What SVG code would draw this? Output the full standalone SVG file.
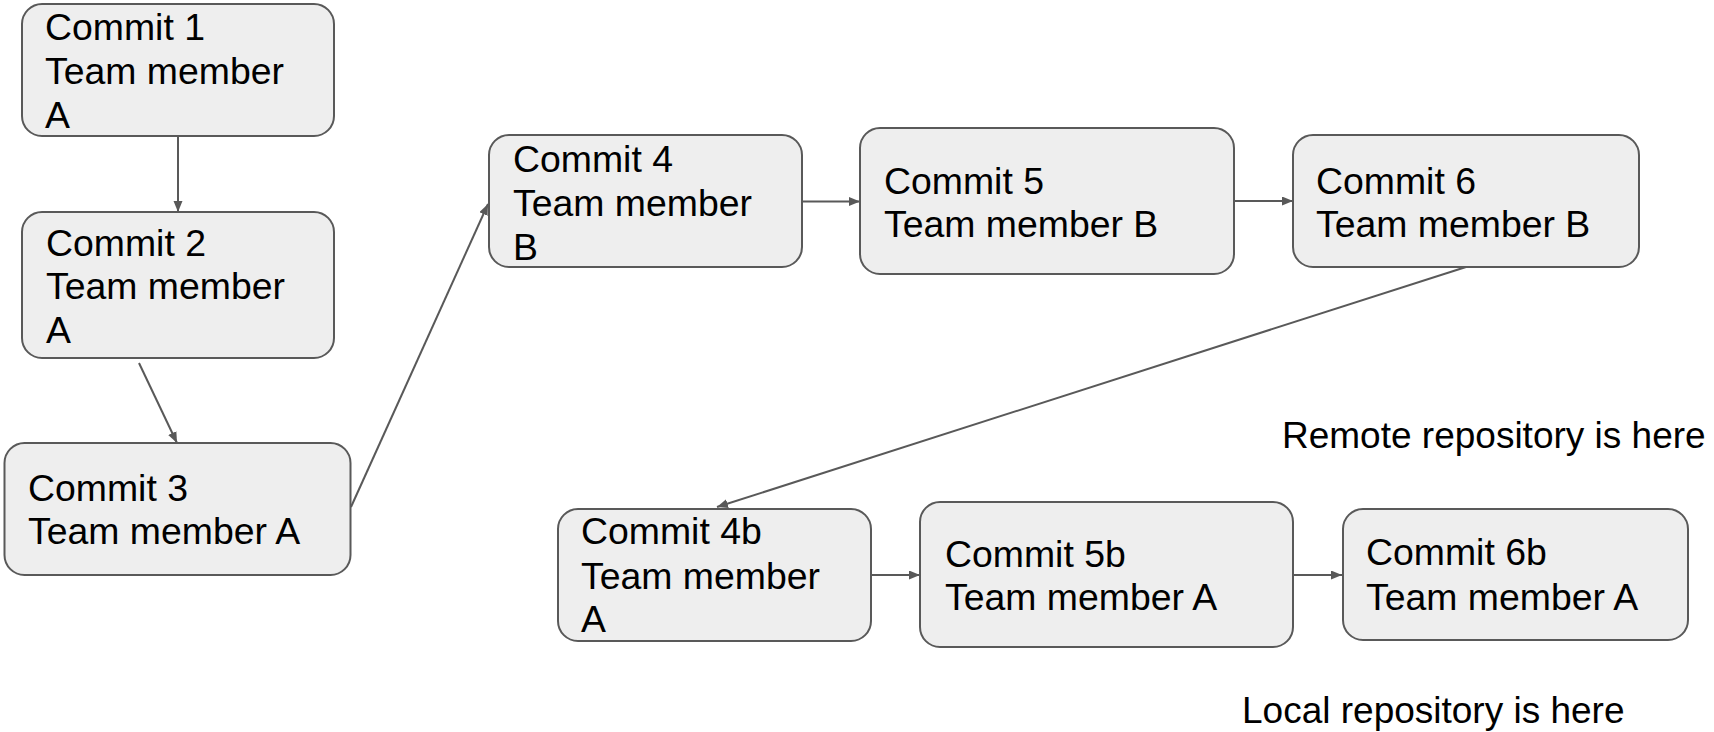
<svg xmlns="http://www.w3.org/2000/svg" width="1714" height="732" viewBox="0 0 1714 732">
<style>
.box{fill:#eeeeee;stroke:#595959;stroke-width:2}
.t{font-family:"Liberation Sans",Arial,sans-serif;font-size:37.4px;fill:#000}
.lbl{font-family:"Liberation Sans",Arial,sans-serif;font-size:37px;fill:#000}
.c{fill:none;stroke:#595959;stroke-width:2}
</style>
<defs>
<marker id="ah" markerUnits="userSpaceOnUse" markerWidth="12" markerHeight="10" refX="11" refY="4.5" orient="auto">
<path d="M0,0 L11,4.5 L0,9 z" fill="#595959"/>
</marker>
</defs>
<rect width="1714" height="732" fill="#ffffff"/>
<g id="connectors">
<line class="c" x1="178" y1="136" x2="178" y2="212" marker-end="url(#ah)"/>
<line class="c" x1="139" y1="363" x2="177" y2="443" marker-end="url(#ah)"/>
<line class="c" x1="351" y1="507" x2="488" y2="204" marker-end="url(#ah)"/>
<line class="c" x1="803" y1="201.5" x2="860" y2="201.5" marker-end="url(#ah)"/>
<line class="c" x1="1234" y1="201" x2="1293" y2="201" marker-end="url(#ah)"/>
<line class="c" x1="1466" y1="267" x2="717" y2="507" marker-end="url(#ah)"/>
<line class="c" x1="871" y1="575" x2="920" y2="575" marker-end="url(#ah)"/>
<line class="c" x1="1293" y1="575" x2="1342" y2="575" marker-end="url(#ah)"/>
</g>
<g id="commit1">
<rect class="box" x="22" y="4" width="312" height="132" rx="20"/>
<text class="t"><tspan x="45" y="40">Commit 1</tspan><tspan x="45" y="84">Team member</tspan><tspan x="45" y="128">A</tspan></text>
</g>
<g id="commit2">
<rect class="box" x="22" y="212" width="312" height="146" rx="20"/>
<text class="t"><tspan x="46" y="256">Commit 2</tspan><tspan x="46" y="299">Team member</tspan><tspan x="46" y="343">A</tspan></text>
</g>
<g id="commit3">
<rect class="box" x="4.5" y="443" width="346" height="132" rx="20"/>
<text class="t"><tspan x="28" y="501">Commit 3</tspan><tspan x="28" y="544">Team member A</tspan></text>
</g>
<g id="commit4">
<rect class="box" x="489" y="135" width="313" height="132" rx="20"/>
<text class="t"><tspan x="513" y="172">Commit 4</tspan><tspan x="513" y="216">Team member</tspan><tspan x="513" y="260">B</tspan></text>
</g>
<g id="commit5">
<rect class="box" x="860" y="128" width="374" height="146" rx="20"/>
<text class="t"><tspan x="884" y="194">Commit 5</tspan><tspan x="884" y="237">Team member B</tspan></text>
</g>
<g id="commit6">
<rect class="box" x="1293" y="135" width="346" height="132" rx="20"/>
<text class="t"><tspan x="1316" y="194">Commit 6</tspan><tspan x="1316" y="237">Team member B</tspan></text>
</g>
<g id="commit4b">
<rect class="box" x="558" y="509" width="313" height="132" rx="20"/>
<text class="t"><tspan x="581" y="544">Commit 4b</tspan><tspan x="581" y="589">Team member</tspan><tspan x="581" y="632">A</tspan></text>
</g>
<g id="commit5b">
<rect class="box" x="920" y="502" width="373" height="145" rx="20"/>
<text class="t"><tspan x="945" y="567">Commit 5b</tspan><tspan x="945" y="610">Team member A</tspan></text>
</g>
<g id="commit6b">
<rect class="box" x="1343" y="509" width="345" height="131" rx="20"/>
<text class="t"><tspan x="1366" y="565">Commit 6b</tspan><tspan x="1366" y="610">Team member A</tspan></text>
</g>
<g id="remote-label">
<text class="lbl" x="1282" y="448">Remote repository is here</text>
</g>
<g id="local-label">
<text class="lbl" x="1242" y="723">Local repository is here</text>
</g>
</svg>
